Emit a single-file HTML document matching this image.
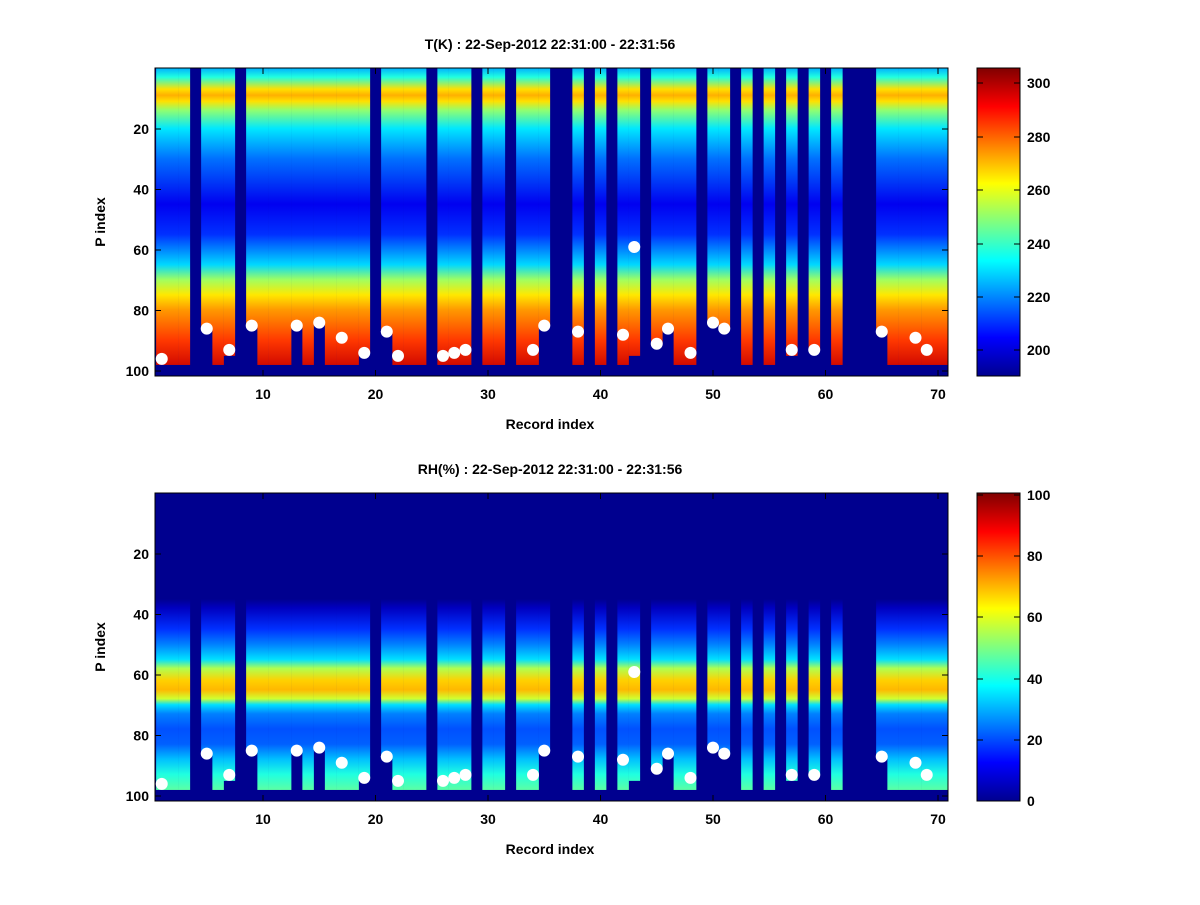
<!DOCTYPE html>
<html><head><meta charset="utf-8"><style>
body{margin:0;background:#fff;}
svg text{font-family:"Liberation Sans",sans-serif;font-weight:bold;font-size:14px;fill:#000;}
</style></head><body>
<svg id="s" width="1200" height="900" xmlns="http://www.w3.org/2000/svg">
<defs>
<linearGradient id="gT" gradientUnits="userSpaceOnUse" x1="0" y1="68" x2="0" y2="370.5">
<stop offset="0" stop-color="#00b0ff"/><stop offset="0.03" stop-color="#20ffe0"/>
<stop offset="0.07" stop-color="#ffe000"/><stop offset="0.09" stop-color="#ffb000"/>
<stop offset="0.11" stop-color="#ffe000"/><stop offset="0.14" stop-color="#90ff70"/>
<stop offset="0.2" stop-color="#00e8ff"/><stop offset="0.3" stop-color="#0070ff"/>
<stop offset="0.45" stop-color="#0000f0"/><stop offset="0.55" stop-color="#0030ff"/>
<stop offset="0.65" stop-color="#00d8ff"/><stop offset="0.7" stop-color="#a0ff60"/>
<stop offset="0.75" stop-color="#ffe800"/><stop offset="0.8" stop-color="#ff9800"/>
<stop offset="0.9" stop-color="#ff3800"/><stop offset="1" stop-color="#c80000"/>
</linearGradient>
<linearGradient id="gR" gradientUnits="userSpaceOnUse" x1="0" y1="493" x2="0" y2="795.5">
<stop offset="0" stop-color="#00008f"/><stop offset="0.35" stop-color="#00008f"/>
<stop offset="0.38" stop-color="#0000c0"/><stop offset="0.45" stop-color="#0030ff"/>
<stop offset="0.5" stop-color="#0080ff"/><stop offset="0.55" stop-color="#00e0ff"/>
<stop offset="0.58" stop-color="#b0ff50"/><stop offset="0.62" stop-color="#ffd000"/>
<stop offset="0.65" stop-color="#ffb800"/><stop offset="0.68" stop-color="#d0ff30"/>
<stop offset="0.7" stop-color="#00e0ff"/><stop offset="0.73" stop-color="#0080ff"/>
<stop offset="0.78" stop-color="#0050ff"/><stop offset="0.83" stop-color="#0060ff"/>
<stop offset="0.88" stop-color="#00c0ff"/><stop offset="0.93" stop-color="#20ffe0"/>
<stop offset="1" stop-color="#70ff90"/>
</linearGradient>
<linearGradient id="jet" x1="0" y1="1" x2="0" y2="0">
<stop offset="0" stop-color="#00008f"/><stop offset="0.125" stop-color="#0000ff"/>
<stop offset="0.375" stop-color="#00ffff"/><stop offset="0.625" stop-color="#ffff00"/>
<stop offset="0.875" stop-color="#ff0000"/><stop offset="1" stop-color="#800000"/>
</linearGradient>
</defs>
<g id="g"></g>
</svg>
<script>
var NS="http://www.w3.org/2000/svg",g=document.getElementById('g');
function el(t,a,txt){var e=document.createElementNS(NS,t);for(var k in a)e.setAttribute(k,a[k]);if(txt!=null)e.textContent=txt;g.appendChild(e);return e;}
var blank=[4,8,20,25,29,32,36,37,39,41,44,49,52,54,56,58,60,62,63,64];
var marks={1:96,5:86,7:93,9:85,13:85,15:84,17:89,19:94,21:87,22:95,26:95,27:94,28:93,34:93,35:85,38:87,42:88,43:59,45:91,46:86,48:94,50:84,51:86,57:93,59:93,65:87,68:89,69:93};
var cut={5:86,7:95,9:85,13:85,15:84,19:94,21:87,35:85,43:95,45:91,46:86,50:84,51:86,57:95,59:93,65:87};
function X(r){return 263+(r-10)*11.25;}
function panel(top,grad,title){
 var Y=function(p){return top+61+(p-20)*3.025;};
 el('rect',{x:155,y:top,width:793,height:308,fill:'#00008f'});
 for(var r=1;r<=70;r++){
  if(blank.indexOf(r)>=0)continue;
  var pe=cut[r]||98;
  var w=(r==70)?(948-(X(r)-5.625)):11.5;
  el('rect',{x:X(r)-5.625,y:top,width:w,height:Y(pe)-top,fill:'url(#'+grad+')'});
 }
 for(var k in marks){el('circle',{cx:X(+k),cy:Y(marks[k]),r:6,fill:'#fff'});}
 el('rect',{x:155,y:top,width:793,height:308,fill:'none',stroke:'#000','stroke-width':1});
 for(var i=0;i<7;i++){var x=263+112.5*i;
  el('line',{x1:x,y1:top,x2:x,y2:top+6,stroke:'#000'});el('line',{x1:x,y1:top+308,x2:x,y2:top+302,stroke:'#000'});
  el('text',{x:x,y:top+331,'text-anchor':'middle','font-size':'15'},String(10+10*i));}
 for(var p=20;p<=100;p+=20){var y=Y(p);
  el('line',{x1:155,y1:y,x2:161,y2:y,stroke:'#000'});el('line',{x1:948,y1:y,x2:942,y2:y,stroke:'#000'});
  el('text',{x:149,y:y+5,'text-anchor':'end','font-size':'15'},String(p));}
 el('text',{x:550,y:top+361,'text-anchor':'middle','font-size':'17'},'Record index');
 el('text',{x:0,y:0,'text-anchor':'middle','font-size':'17',transform:'translate(105,'+(top+154)+') rotate(-90)'},'P index');
 el('text',{x:550,y:top-19,'text-anchor':'middle','font-size':'14.5'},title);
 el('rect',{x:977,y:top,width:43,height:308,fill:'url(#jet)',stroke:'#000','stroke-width':1});
}
panel(68,'gT','T(K) : 22-Sep-2012 22:31:00 - 22:31:56');
panel(493,'gR','RH(%) : 22-Sep-2012 22:31:00 - 22:31:56');
var tt=[[200,350],[220,297],[240,244],[260,190],[280,137],[300,83]];
tt.forEach(function(a){el('line',{x1:1014,y1:a[1],x2:1020,y2:a[1],stroke:'#000'});el('line',{x1:977,y1:a[1],x2:983,y2:a[1],stroke:'#000'});el('text',{x:1027,y:a[1]+5,'font-size':'15'},String(a[0]));});
var rt=[[0,801],[20,740],[40,679],[60,617],[80,556],[100,495]];
rt.forEach(function(a){el('line',{x1:1014,y1:a[1],x2:1020,y2:a[1],stroke:'#000'});el('line',{x1:977,y1:a[1],x2:983,y2:a[1],stroke:'#000'});el('text',{x:1027,y:a[1]+5,'font-size':'15'},String(a[0]));});
</script>
</body></html>
